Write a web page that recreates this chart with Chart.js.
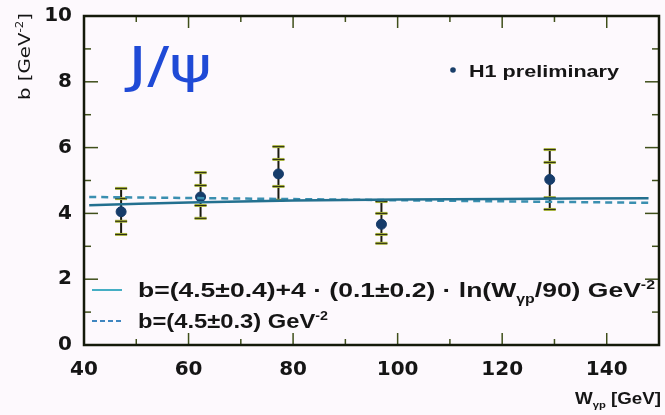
<!DOCTYPE html>
<html>
<head>
<meta charset="utf-8">
<script src="https://cdn.jsdelivr.net/npm/chart.js@4.4.1/dist/chart.umd.min.js"></script>
<style>
  html, body { margin: 0; padding: 0; background: #fdf9fd; }
  canvas { display: block; }
</style>
</head>
<body>
<canvas id="c" width="665" height="415"></canvas>
<script>
// ---- data ----
const wValues   = [47.1, 62.3, 77.2, 96.9, 129.1];
const bValues   = [4.05, 4.50, 5.20, 3.67, 5.03];
const statLow   = [3.76, 4.24, 4.82, 3.36, 4.48];
const statHigh  = [4.45, 4.85, 5.64, 4.00, 5.55];
const totLow    = [3.36, 3.85, 4.40, 3.09, 4.12];
const totHigh   = [4.76, 5.24, 6.03, 4.36, 5.94];

const fitW      = [41, 60, 80, 100, 120, 148];
const fitB      = [4.25, 4.33, 4.39, 4.42, 4.44, 4.46];
const constW    = [41, 148];
const constB    = [4.50, 4.32];

const xTickLabels = [40, 60, 80, 100, 120, 140];
const xMinorTicks = [50, 70, 90, 110, 130, 150];
const yTickLabels = [0, 2, 4, 6, 8, 10];
const yMinorTicks = [1, 3, 5, 7, 9];

const FONT = "'DejaVu Sans', 'Liberation Sans', Arial, sans-serif";
const FONT2 = "'Liberation Sans', Arial, sans-serif";

const toXY = (xs, ys) => xs.map((x, i) => ({ x: x, y: ys[i] }));

const bgPlugin = {
  id: 'bg',
  beforeDraw(chart) {
    const ctx = chart.ctx;
    ctx.save();
    ctx.fillStyle = '#fdf9fd';
    ctx.fillRect(0, 0, chart.width, chart.height);
    ctx.restore();
  }
};

const errorBarPlugin = {
  id: 'errbars',
  beforeDatasetsDraw(chart) {
    const ctx = chart.ctx;
    const xs = chart.scales.x, ys = chart.scales.y;
    ctx.save();
    wValues.forEach((w, i) => {
      const px = xs.getPixelForValue(w);
      const yTop = ys.getPixelForValue(totHigh[i]);
      const yBot = ys.getPixelForValue(totLow[i]);
      ctx.strokeStyle = '#1a1a10';
      ctx.lineWidth = 2;
      ctx.beginPath(); ctx.moveTo(px, yTop); ctx.lineTo(px, yBot); ctx.stroke();
      [totHigh[i], totLow[i], statHigh[i], statLow[i]].forEach(v => {
        const py = ys.getPixelForValue(v);
        ctx.strokeStyle = '#a6b23a';
        ctx.lineWidth = 3;
        ctx.beginPath(); ctx.moveTo(px - 6, py); ctx.lineTo(px + 6, py); ctx.stroke();
        ctx.strokeStyle = '#2a2a14';
        ctx.lineWidth = 1;
        ctx.beginPath(); ctx.moveTo(px - 6, py); ctx.lineTo(px + 6, py); ctx.stroke();
      });
    });
    ctx.restore();
  }
};

function fontFor(mode, size, weight, fam) {
  const fs = (mode === 'n') ? size : size * 0.6;
  return weight + ' ' + fs + 'px ' + fam;
}
function segWidth(ctx, parts, size, weight, fam) {
  let w = 0;
  parts.forEach(([t, mode]) => { ctx.font = fontFor(mode, size, weight, fam); w += ctx.measureText(t).width; });
  return w;
}
// draws text pieces starting at (x,y), stretched horizontally to targetWidth
function drawFitted(ctx, x, y, parts, size, weight, targetWidth, fam) {
  fam = fam || FONT;
  const w = segWidth(ctx, parts, size, weight, fam);
  const sx = targetWidth ? targetWidth / w : 1;
  ctx.save();
  ctx.translate(x, y);
  ctx.scale(sx, 1);
  let cx = 0;
  parts.forEach(([t, mode]) => {
    let dy = 0;
    if (mode === 'sub') dy = size * 0.28;
    if (mode === 'sup') dy = -size * 0.42;
    ctx.font = fontFor(mode, size, weight, fam);
    ctx.fillText(t, cx, dy);
    cx += ctx.measureText(t).width;
  });
  ctx.restore();
}

const framePlugin = {
  id: 'frame',
  afterDraw(chart) {
    const ctx = chart.ctx;
    const a = chart.chartArea;
    const xs = chart.scales.x, ys = chart.scales.y;
    ctx.save();
    ctx.strokeStyle = '#3f4f1a';
    ctx.lineWidth = 1.5;
    const tick = (x1, y1, x2, y2) => { ctx.beginPath(); ctx.moveTo(x1, y1); ctx.lineTo(x2, y2); ctx.stroke(); };
    xTickLabels.forEach(v => { const p = xs.getPixelForValue(v); tick(p, a.bottom, p, a.bottom - 12); tick(p, a.top, p, a.top + 12); });
    xMinorTicks.forEach(v => { const p = xs.getPixelForValue(v); if (v < xs.max) { tick(p, a.bottom, p, a.bottom - 6); tick(p, a.top, p, a.top + 6); } });
    yTickLabels.forEach(v => { const p = ys.getPixelForValue(v); tick(a.left, p, a.left + 14, p); tick(a.right, p, a.right - 14, p); });
    yMinorTicks.forEach(v => { const p = ys.getPixelForValue(v); tick(a.left, p, a.left + 7, p); tick(a.right, p, a.right - 7, p); });
    ctx.strokeStyle = '#141a0a';
    ctx.lineWidth = 2.5;
    ctx.strokeRect(a.left, a.top, a.right - a.left, a.bottom - a.top);

    ctx.fillStyle = '#151515';
    ctx.textBaseline = 'alphabetic';
    ctx.textAlign = 'left';

    // y axis title (rotated), spans y 13..100
    ctx.save();
    ctx.translate(30, 100);
    ctx.rotate(-Math.PI / 2);
    drawFitted(ctx, 0, 0, [['b [GeV', 'n'], ['-2', 'sup'], [']', 'n']], 16, 'normal', 87);
    ctx.restore();

    // x axis title
    drawFitted(ctx, 575, 404, [['W', 'n'], ['γp', 'sub'], [' [GeV]', 'n']], 16, 'bold', 86, FONT2);

    // H1 preliminary label
    ctx.fillStyle = '#1a3f6a';
    ctx.beginPath(); ctx.arc(453, 70, 2.8, 0, Math.PI * 2); ctx.fill();
    ctx.fillStyle = '#151515';
    drawFitted(ctx, 469, 77, [['H1 preliminary', 'n']], 17, 'bold', 150, FONT2);

    // J/psi handwritten label
    ctx.fillStyle = '#1f4ad6';
    drawFitted(ctx, 128, 82, [['J/ψ', 'n']], 50, 'normal', 84);

    // legend samples
    ctx.strokeStyle = '#45aec4';
    ctx.lineWidth = 2;
    ctx.setLineDash([]);
    tick(92, 290, 122, 290);
    ctx.strokeStyle = '#3f86c0';
    ctx.setLineDash([5, 3]);
    tick(92, 321, 122, 321);
    ctx.setLineDash([]);

    ctx.fillStyle = '#151515';
    drawFitted(ctx, 138, 297, [['b=(4.5±0.4)+4 · (0.1±0.2) · ln(W', 'n'], ['γp', 'sub'], ['/90) GeV', 'n'], ['-2', 'sup']], 20, 'bold', 517, FONT2);
    drawFitted(ctx, 138, 328, [['b=(4.5±0.3) GeV', 'n'], ['-2', 'sup']], 20, 'bold', 190, FONT2);

    ctx.restore();
  }
};

new Chart(document.getElementById('c'), {
  type: 'scatter',
  data: {
    datasets: [
      {
        type: 'line',
        label: 'fit ln',
        data: toXY(fitW, fitB),
        borderColor: '#23708f',
        borderWidth: 2.5,
        pointRadius: 0,
        tension: 0.4,
        fill: false
      },
      {
        type: 'line',
        label: 'const',
        data: toXY(constW, constB),
        borderColor: '#3a8fb0',
        borderWidth: 2.5,
        borderDash: [7, 5],
        pointRadius: 0,
        fill: false
      },
      {
        label: 'H1 preliminary',
        data: toXY(wValues, bValues),
        backgroundColor: '#163c6a',
        borderColor: '#163c6a',
        pointRadius: 5,
        pointHoverRadius: 5
      }
    ]
  },
  options: {
    responsive: false,
    animation: false,
    events: [],
    layout: { padding: { left: 0, top: 15, right: 4, bottom: 0 } },
    plugins: { legend: { display: false }, tooltip: { enabled: false } },
    scales: {
      x: {
        type: 'linear',
        min: 40, max: 150,
        grid: { display: false },
        border: { display: false },
        afterBuildTicks: s => { s.ticks = xTickLabels.map(v => ({ value: v })); },
        afterFit: s => { s.height = 70; },
        ticks: { padding: 5, color: '#151515', font: { family: FONT, size: 20, weight: 'bold' }, maxRotation: 0, autoSkip: false }
      },
      y: {
        type: 'linear',
        min: 0, max: 10,
        grid: { display: false },
        border: { display: false },
        afterBuildTicks: s => { s.ticks = yTickLabels.map(v => ({ value: v })); },
        afterFit: s => { s.width = 84; },
        ticks: { padding: 4, color: '#151515', font: { family: FONT, size: 20, weight: 'bold' }, autoSkip: false }
      }
    }
  },
  plugins: [bgPlugin, errorBarPlugin, framePlugin]
});
</script>
</body>
</html>
